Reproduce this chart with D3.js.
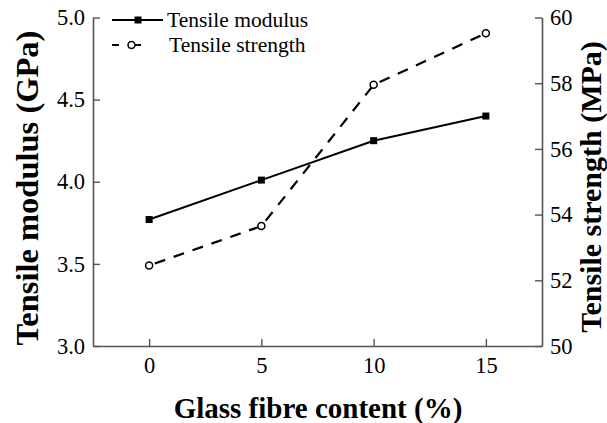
<!DOCTYPE html>
<html><head><meta charset="utf-8">
<script src="https://cdn.jsdelivr.net/npm/d3@7"></script>
<style>
body{margin:0;background:#fff;}
svg{display:block;}
svg text{font-family:"Liberation Serif","Times New Roman",serif !important;fill:#000;}
</style></head>
<body><svg id="c" width="607" height="423"></svg>
<script>
const glassContent = [0, 5, 10, 15];
const tensileModulus = [3.77, 4.01, 4.25, 4.40];
const tensileStrength = [52.45, 53.65, 57.95, 59.52];
const leftTicks = [3.0, 3.5, 4.0, 4.5, 5.0];
const rightTicks = [50, 52, 54, 56, 58, 60];
const xTicks = [0, 5, 10, 15];

const svg = d3.select("#c");
const L = 93, R = 542, T = 17.5, B = 346;
const x = d3.scaleLinear().domain([-2.5, 17.5]).range([L, R]);
const yL = d3.scaleLinear().domain([3, 5]).range([B, T]);
const yR = d3.scaleLinear().domain([50, 60]).range([B, T]);
const axisColor = "#555";

function style(g){
  g.attr("font-family", "Liberation Serif");
  g.select(".domain").attr("stroke", axisColor).attr("stroke-width", 1.6);
  g.selectAll(".tick line").attr("stroke", axisColor).attr("stroke-width", 1.4);
  g.selectAll(".tick text").attr("font-size", 22.5).style("font-family", "'Liberation Serif', serif").attr("fill", "#000");
}

svg.append("g").attr("transform", `translate(${L},0)`)
  .call(d3.axisLeft(yL).tickValues(leftTicks).tickFormat(d3.format(".1f")).tickSizeInner(-7).tickSizeOuter(0).tickPadding(8))
  .call(style);
svg.append("g").attr("transform", `translate(${R},0)`)
  .call(d3.axisRight(yR).tickValues(rightTicks).tickFormat(d3.format("d")).tickSizeInner(-7).tickSizeOuter(0).tickPadding(8))
  .call(style);
svg.append("g").attr("transform", `translate(0,${B})`)
  .call(d3.axisBottom(x).tickValues(xTicks).tickFormat(d3.format("d")).tickSizeInner(-7).tickSizeOuter(0).tickPadding(11))
  .call(style);

// Lines
const modLine = d3.line().x((d,i)=>x(glassContent[i])).y(d=>yL(d));
const strLine = d3.line().x((d,i)=>x(glassContent[i])).y(d=>yR(d));
svg.append("path").attr("d", modLine(tensileModulus)).attr("fill","none").attr("stroke","#000").attr("stroke-width",2);
svg.append("path").attr("d", strLine(tensileStrength)).attr("fill","none").attr("stroke","#000").attr("stroke-width",2.2).attr("stroke-dasharray","11,9").attr("stroke-dashoffset",-6);

svg.selectAll(".sq").data(tensileModulus).enter().append("rect")
  .attr("x",(d,i)=>x(glassContent[i])-3.5).attr("y",d=>yL(d)-3.5).attr("width",7).attr("height",7).attr("fill","#000");
svg.selectAll(".ci").data(tensileStrength).enter().append("circle")
  .attr("cx",(d,i)=>x(glassContent[i])).attr("cy",d=>yR(d)).attr("r",3.5).attr("fill","#fff").attr("stroke","#000").attr("stroke-width",1.5);

// Legend
const lg = svg.append("g");
lg.append("line").attr("x1",112).attr("x2",163).attr("y1",20).attr("y2",20).attr("stroke","#000").attr("stroke-width",2);
lg.append("rect").attr("x",134.5).attr("y",16.5).attr("width",7).attr("height",7).attr("fill","#000");
lg.append("text").attr("x",167).attr("y",27).attr("font-size",21.5).text("Tensile modulus");
lg.append("line").attr("x1",112).attr("x2",119).attr("y1",45).attr("y2",45).attr("stroke","#000").attr("stroke-width",2);
lg.append("line").attr("x1",131).attr("x2",141).attr("y1",45).attr("y2",45).attr("stroke","#000").attr("stroke-width",2);
lg.append("circle").attr("cx",131.5).attr("cy",45).attr("r",3.5).attr("fill","#fff").attr("stroke","#000").attr("stroke-width",1.5);
lg.append("text").attr("x",169).attr("y",52).attr("font-size",21.5).text("Tensile strength");

// Titles
svg.append("text").attr("x",318).attr("y",418).attr("text-anchor","middle").attr("font-size",29).attr("font-weight","bold").text("Glass fibre content (%)");
svg.append("text").attr("transform",`translate(38,188) rotate(-90)`).attr("text-anchor","middle").attr("font-size",32.5).attr("font-weight","bold").text("Tensile modulus (GPa)");
svg.append("text").attr("transform",`translate(601,187) rotate(-90)`).attr("text-anchor","middle").attr("font-size",30).attr("font-weight","bold").text("Tensile strength (MPa)");
</script></body></html>
